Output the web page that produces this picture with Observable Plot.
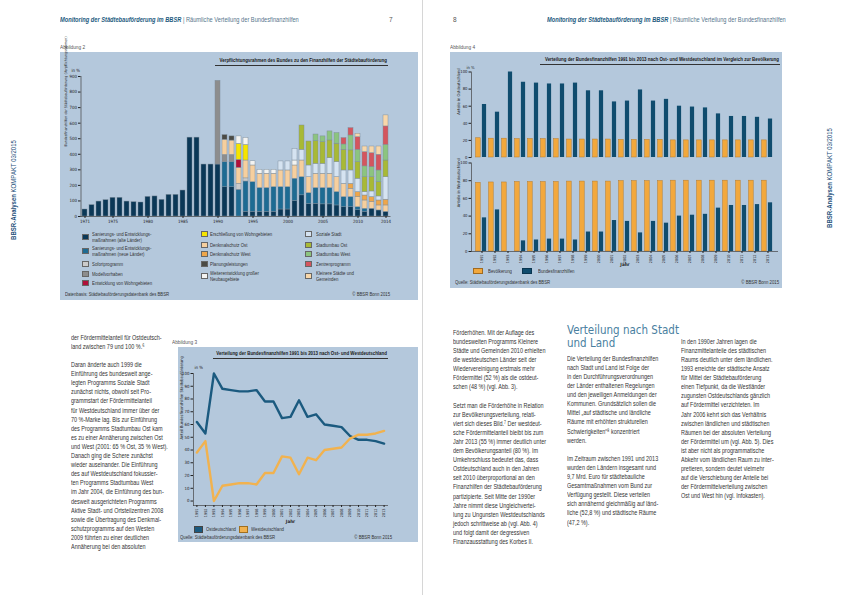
<!DOCTYPE html>
<html lang="de">
<head>
<meta charset="utf-8">
<title>BBSR-Analysen KOMPAKT 03/2015</title>
<script src="https://cdn.jsdelivr.net/npm/d3@7"></script>
<script src="https://cdn.jsdelivr.net/npm/@observablehq/plot@0.6"></script>
<style>
html,body{margin:0;padding:0;background:#fff;}
#page{position:relative;width:843px;height:595px;overflow:hidden;font-family:"Liberation Sans","DejaVu Sans Condensed",sans-serif;color:#3a3a3a;}
#page div{position:absolute;white-space:nowrap;}
#page svg{overflow:visible;display:block;}
</style>
</head>
<body>
<div id="page"></div>
<script>
// ================= DATA =================
// Abbildung 2 – Verpflichtungsrahmen (in %), 1971–2014
const years2 = [1971,1972,1973,1974,1975,1976,1977,1978,1979,1980,1981,1982,1983,1984,1985,1986,1987,1988,1989,1990,
                1991,1992,1993,1994,1995,1996,1997,1998,1999,2000,2001,2002,2003,2004,2005,2006,2007,2008,2009,2010,2011,2012,2013,2014];
const sanierungAlt   = [45,73,96,105,120,120,96,92,90,126,129,107,139,139,167,507,507,334,334,334, 188,188,0,30,30,30,30,30,45,45,100,136,80,82,78,78,71,60,60,40,30,50,39,30];
const sanierungNeu   = [0,0,0,0,0,0,0,0,0,0,0,0,0,0,0,0,0,0,0,0, 161,161,172,195,191,153,153,159,144,144,143,117,70,101,105,105,86,65,65,20,20,0,0,0];
const sofortprogramm = [0,0,0,0,0,0,0,0,0,0,0,0,0,0,0,0,0,0,0,0, 0,0,38,20,0,0,0,0,0,0,0,0,0,0,0,0,0,0,0,0,0,0,0,0];
const modellvorhaben = [0,0,0,0,0,0,0,0,0,0,0,0,0,0,0,0,0,0,0,538, 47,47,0,0,0,0,0,0,0,0,0,0,0,0,0,0,0,0,0,0,0,0,0,0];
const entwicklungWG  = [0,0,0,0,0,0,0,0,0,0,0,0,0,0,0,0,0,0,0,0, 0,0,51,0,0,0,0,0,0,0,0,0,0,0,0,0,0,0,0,0,0,0,0,0];
const erschliessungWG= [0,0,0,0,0,0,0,0,0,0,0,0,0,0,0,0,0,0,0,0, 0,0,103,100,0,0,0,0,0,0,0,0,0,0,0,0,0,0,0,0,0,0,0,0];
const denkmalOst     = [0,0,0,0,0,0,0,0,0,0,0,0,0,0,0,0,0,0,0,0, 97,92,103,115,107,92,92,86,107,107,85,107,103,92,92,92,96,85,53,65,53,43,32,41];
const denkmalWest    = [0,0,0,0,0,0,0,0,0,0,0,0,0,0,0,0,0,0,0,0, 0,0,0,0,0,0,0,0,0,0,0,0,0,0,0,0,0,0,32,32,32,32,32,37];
const planung        = [0,0,0,0,0,0,0,0,0,0,0,0,0,0,0,0,0,0,0,0, 30,27,0,0,0,0,0,0,0,0,0,0,0,0,0,0,0,0,0,0,0,0,0,0];
const neubaugebiete  = [0,0,0,0,0,0,0,0,0,0,0,0,0,0,0,0,0,0,0,0, 0,0,48,45,27,25,25,25,0,0,32,0,0,0,0,0,0,0,0,0,0,0,0,0];
const sozialeStadt   = [0,0,0,0,0,0,0,0,0,0,0,0,0,0,0,0,0,0,0,0, 0,0,0,0,0,0,0,0,58,58,75,69,75,64,64,100,97,86,86,86,22,36,26,145];
const stadtumbauOst  = [0,0,0,0,0,0,0,0,0,0,0,0,0,0,0,0,0,0,0,0, 0,0,0,0,0,0,0,0,0,0,0,156,154,146,139,114,118,133,129,107,96,92,92,107];
const stadtumbauWest = [0,0,0,0,0,0,0,0,0,0,0,0,0,0,0,0,0,0,0,0, 0,0,0,0,0,0,0,0,0,0,0,0,0,42,37,58,68,34,96,79,69,65,75,101];
const zentren        = [0,0,0,0,0,0,0,0,0,0,0,0,0,0,0,0,0,0,0,0, 0,0,0,0,0,0,0,0,0,0,0,0,0,0,0,0,0,41,47,81,92,89,101,118];
const kleinereStaedte= [0,0,0,0,0,0,0,0,0,0,0,0,0,0,0,0,0,0,0,0, 0,0,0,0,0,0,0,0,0,0,0,0,0,0,0,0,0,0,0,22,36,43,53,71];

const seriesNames2 = [
  "Sanierungs- und Entwicklungsmaßnahmen (alte Länder)",
  "Sanierungs- und Entwicklungsmaßnahmen (neue Länder)",
  "Sofortprogramm",
  "Modellvorhaben",
  "Denkmalschutz Ost",
  "Denkmalschutz West",
  "Entwicklung von Wohngebieten",
  "Erschließung von Wohngebieten",
  "Planungsleistungen",
  "Weiterentwicklung großer Neubaugebiete",
  "Soziale Stadt",
  "Stadtumbau Ost",
  "Stadtumbau West",
  "Zentrenprogramm",
  "Kleinere Städte und Gemeinden"
];
const seriesValues2 = [sanierungAlt, sanierungNeu, sofortprogramm, modellvorhaben, denkmalOst, denkmalWest,
  entwicklungWG, erschliessungWG, planung, neubaugebiete, sozialeStadt, stadtumbauOst, stadtumbauWest, zentren, kleinereStaedte];
const xTicks2 = [1971,1975,1980,1985,1990,1995,2000,2005,2010,2014];
const yTicks2 = [0,100,200,300,400,500,600,700,800,900];

// Abbildung 3 / 4 – Anteile Ost/West 1991–2013 (in %)
const years34 = [1991,1992,1993,1994,1995,1996,1997,1998,1999,2000,2001,2002,2003,2004,2005,2006,2007,2008,2009,2010,2011,2012,2013];
const finanzhilfenOst  = [62,53,100,88,87,86,86,87,78,78,65,66,79,66,68,60,59,58,51,48,48,47,45];
const finanzhilfenWest = [38,47,0,12,13,14,14,13,22,22,35,34,21,34,32,40,41,42,49,52,52,53,55];
const bevoelkerungOst  = [22.5,22,22,21.5,21.5,21.5,21.5,21,21,21,21,20.5,20.5,20.5,20.5,20,20,20,20,20,20,20,20];
const bevoelkerungWest = [77.5,78,78,78.5,78.5,78.5,78.5,79,79,79,79,79.5,79.5,79.5,79.5,80,80,80,80,80,80,80,80];
const yTicks3 = [0,10,20,30,40,50,60,70,80,90,100];
const yTicks4 = [0,20,40,60,80,100];

// ================= STYLE =================
const FONT = '"DejaVu Sans Condensed","Liberation Sans",sans-serif';
const BG = "#b4c8dc";
const colors2 = ["#0b3857","#1e6b93","#cbcbcb","#8d8d8d","#f6cf9e","#eea64a","#b0103a","#f5e400","#4b4b45","#f3f3f1","#d5e3f1","#a8b935","#8cc47f","#d4555e","#f8d7aa"];
const NAVY = "#0f4c6e", ORANGE = "#f2a83c";

const page = document.getElementById("page");
function div(style, text) {
  const e = document.createElement("div");
  Object.assign(e.style, style);
  if (text != null) e.textContent = text;
  page.appendChild(e);
  return e;
}
// y = vertical centre of the text line; sx = horizontal condensing
function txt(s, x, y, o = {}) {
  const fs = o.size || 7, sx = o.sx || 1, lh = o.lh || fs * 1.2;
  let tr, org;
  if (o.anchor === "end") { tr = `translateX(-100%) scaleX(${sx})`; org = "100% 50%"; }
  else if (o.anchor === "middle") { tr = `translateX(-50%) scaleX(${sx})`; org = "50% 50%"; }
  else { tr = `scaleX(${sx})`; org = "0 50%"; }
  const e = div({left: x + "px", top: (y - lh / 2) + "px", fontSize: fs + "px", lineHeight: lh + "px",
    color: o.color || "#3a3a3a", fontWeight: o.weight || "normal", fontStyle: o.italic ? "italic" : "normal",
    fontFamily: o.family || "inherit", transform: tr, transformOrigin: org}, s);
  return e;
}
function lines(arr, x, y0, lh, o) { arr.forEach((s, i) => { if (s) txt(s, x, y0 + i * lh, o); }); }
function box(x0, y0, x1, y1, c) { div({left: x0 + "px", top: y0 + "px", width: (x1 - x0) + "px", height: (y1 - y0) + "px", background: c}); }
function swatch(x, yc, w, h, c, b) { div({left: x + "px", top: (yc - h / 2) + "px", width: w + "px", height: h + "px", background: c, boxSizing: "border-box", border: "0.6px solid " + (b || "#555")}); }
function title(s, xEnd, y, xStart) {
  txt(s, xEnd, y, {size: 6, weight: "bold", color: "#1a1a1a", anchor: "end", sx: 0.74});
  div({left: xStart + "px", top: (y + 3.8) + "px", width: (xEnd - xStart + 1) + "px", height: "0.8px", background: "#333"});
}
function place(svg, x, y, w) { const d = div({left: x + "px", top: y + "px", width: w + "px"}); d.appendChild(svg); }

const LEG = {size: 5.4, color: "#333", sx: 0.8};
const SRC = {size: 5.2, color: "#333", sx: 0.82};
const LBL = {size: 5.6, color: "#555", sx: 0.85};

// ================= PAGE FURNITURE =================
div({left: "421.5px", top: "0px", width: "0.6px", height: "595px", background: "#d6d6d6"});
function header(x, y) {
  const e = div({left: x + "px", top: (y - 4) + "px", fontSize: "6.6px", lineHeight: "8px", color: "#55758c",
    transform: "scaleX(0.86)", transformOrigin: "0 50%"});
  e.innerHTML = '<span style="font-weight:bold;font-style:italic;color:#1d5b80">Monitoring der Städtebauförderung im BBSR</span> | Räumliche Verteilung der Bundesfinanzhilfen';
}
header(60, 20); header(547, 20);
txt("7", 389, 20, {size: 6.5, color: "#555"});
txt("8", 453, 20, {size: 6.5, color: "#555"});
function side(x, y) {
  const e = div({left: x + "px", top: y + "px", fontSize: "7px", lineHeight: "8px", color: "#1d4f7a",
    transform: "translate(-50%,-50%) rotate(-90deg) scaleX(0.86)"});
  e.innerHTML = '<b>BBSR-Analysen</b> KOMPAKT 03/2015';
}
side(14, 190); side(830, 178);

// ================= ABBILDUNG 2 =================
txt("Abbildung 2", 60, 47, LBL);
box(60, 52, 418, 300, BG);
title("Verpflichtungsrahmen des Bundes zu den Finanzhilfen der Städtebauförderung", 387, 61, 215);

const data2 = [];
seriesNames2.forEach((s, k) => years2.forEach((yr, i) => {
  const v = seriesValues2[k][i];
  if (v > 0) data2.push({year: yr, series: s, value: v});
}));

const chart2 = Plot.plot({
  width: 360, height: 185,
  marginLeft: 20.5, marginRight: 29.5, marginTop: 24, marginBottom: 21,
  style: {background: "transparent", fontFamily: FONT, color: "#222", overflow: "visible"},
  x: {type: "band", domain: years2, paddingInner: 0.25, paddingOuter: 0.125, axis: null},
  y: {domain: [0, 900], axis: null},
  color: {domain: seriesNames2, range: colors2},
  marks: [
    Plot.barY(data2, {x: "year", y: "value", fill: "series", order: seriesNames2, stroke: "#7d8c99", strokeWidth: 0.45}),
    Plot.ruleY([0], {stroke: "#444", strokeWidth: 0.7}),
    Plot.frame({anchor: "left", stroke: "#444", strokeWidth: 0.7}),
    Plot.axisY({ticks: yTicks2, tickSize: 2.5, tickPadding: 1.5, fontSize: 4.4, label: null}),
    Plot.axisX({ticks: xTicks2, tickFormat: d => String(d), tickSize: 2, tickPadding: 1.5, fontSize: 4.4, label: null}),
    Plot.text(["in %"], {frameAnchor: "top-left", textAnchor: "end", dx: -1, dy: -8, fontSize: 4.4}),
    Plot.text(["Bundesfinanzhilfen der Städtebauförderung (Verpflichtungsrahmen)"], {frameAnchor: "left", rotate: -90, dx: -15, fontSize: 3.6})
  ]
});
place(chart2, 60, 52, 360);

const legendCols2 = [
  {sx: 82, tx: 92, rows: [[0, 234, ["Sanierungs- und Entwicklungs-", "maßnahmen (alte Länder)"]],
                           [1, 248, ["Sanierungs- und Entwicklungs-", "maßnahmen (neue Länder)"]],
                           [2, 264, ["Sofortprogramm"]], [3, 273.5, ["Modellvorhaben"]],
                           [6, 283, ["Entwicklung von Wohngebieten"]]]},
  {sx: 201, tx: 210, rows: [[7, 234, ["Erschließung von Wohngebieten"]], [4, 244.5, ["Denkmalschutz Ost"]],
                             [5, 254, ["Denkmalschutz West"]], [8, 263.5, ["Planungsleistungen"]],
                             [9, 273, ["Weiterentwicklung großer", "Neubaugebiete"]]]},
  {sx: 305, tx: 316, rows: [[10, 234, ["Soziale Stadt"]], [11, 244.5, ["Stadtumbau Ost"]], [12, 254, ["Stadtumbau West"]],
                             [13, 263.5, ["Zentrenprogramm"]], [14, 273, ["Kleinere Städte und", "Gemeinden"]]]}
];
legendCols2.forEach(col => col.rows.forEach(([k, y, ls]) => {
  swatch(col.sx, y + (ls.length - 1) * 3, 7, 6, colors2[k], "#666");
  ls.forEach((s, j) => txt(s, col.tx, y + j * 6.2, {...LEG, lh: 6}));
}));
txt("Datenbasis: Städtebauförderungsdatenbank des BBSR", 65, 294, SRC);
txt("© BBSR Bonn 2015", 390, 294, {...SRC, anchor: "end"});

// ================= ABBILDUNG 3 =================
txt("Abbildung 3", 172, 342, LBL);
box(178, 347, 418, 542, BG);
title("Verteilung der Bundesfinanzhilfen 1991 bis 2013 nach Ost- und Westdeutschland", 387, 354, 213);

const data3 = [];
years34.forEach((yr, i) => {
  data3.push({year: yr, region: "Ostdeutschland", value: finanzhilfenOst[i]});
  data3.push({year: yr, region: "Westdeutschland", value: finanzhilfenWest[i]});
});
const chart3 = Plot.plot({
  width: 240, height: 180,
  marginLeft: 15, marginRight: 31, marginTop: 26, marginBottom: 22,
  style: {background: "transparent", fontFamily: FONT, color: "#222", overflow: "visible"},
  x: {domain: [1990.6, 2013.4], axis: null},
  y: {domain: [-3.5, 100], axis: null},
  color: {domain: ["Ostdeutschland", "Westdeutschland"], range: ["#1b5a7f", "#f1b24f"]},
  marks: [
    Plot.frame({anchor: "left", stroke: "#444", strokeWidth: 0.7}),
    Plot.frame({anchor: "bottom", stroke: "#444", strokeWidth: 0.7}),
    Plot.line(data3, {x: "year", y: "value", stroke: "region", z: "region", strokeWidth: 2.4, strokeLinejoin: "round"}),
    Plot.axisY({ticks: yTicks3, tickSize: 2.5, tickPadding: 1.5, fontSize: 4.3, label: null}),
    Plot.axisX({ticks: years34, tickFormat: d => String(d), tickRotate: -90, tickSize: 2, tickPadding: 1, fontSize: 3.8, label: null}),
    Plot.text(["in %"], {frameAnchor: "top-left", dx: 1, dy: -8, fontSize: 4.3}),
    Plot.text(["Jahr"], {frameAnchor: "bottom", dy: 17, fontSize: 4.6, fontWeight: "bold"}),
    Plot.text(["Anteil Bundesfinanzhilfen Städtebauförderung"], {frameAnchor: "left", rotate: -90, dx: -12, fontSize: 4})
  ]
});
place(chart3, 178, 347, 240);
swatch(194, 529, 9, 7, "#1b5a7f", "#444"); txt("Ostdeutschland", 206, 529, LEG);
swatch(239, 529, 9, 7, "#f1b24f", "#a07020"); txt("Westdeutschland", 251, 529, LEG);
txt("Quelle: Städtebauförderungsdatenbank des BBSR", 180, 537, SRC);
txt("© BBSR Bonn 2015", 392, 537, {...SRC, anchor: "end"});

// ================= ABBILDUNG 4 =================
txt("Abbildung 4", 450, 47, LBL);
box(450, 52, 782, 288, BG);
title("Verteilung der Bundesfinanzhilfen 1991 bis 2013 nach Ost- und Westdeutschland im Vergleich zur Bevölkerung", 779, 60, 540);

const data4 = years34.map((yr, i) => ({year: yr, bevOst: bevoelkerungOst[i], fhOst: finanzhilfenOst[i], bevWest: bevoelkerungWest[i], fhWest: finanzhilfenWest[i]}));
function panel4(bevKey, fhKey, opts) {
  return Plot.plot({
    width: 332, height: opts.height,
    marginLeft: 21, marginRight: 4, marginTop: opts.mt, marginBottom: opts.mb,
    style: {background: "transparent", fontFamily: FONT, color: "#222", overflow: "visible"},
    x: {type: "band", domain: years34, paddingInner: 0, paddingOuter: 0, axis: null},
    y: {domain: [0, 100], axis: null},
    marks: [
      Plot.barY(data4, {x: "year", y: bevKey, fill: ORANGE, stroke: "#b97b25", strokeWidth: 0.5, insetLeft: 0.6, insetRight: 7.8}),
      Plot.barY(data4, {x: "year", y: fhKey, fill: NAVY, insetLeft: 6.9, insetRight: 1.9}),
      Plot.frame({anchor: "left", stroke: "#444", strokeWidth: 0.7}),
      Plot.axisY({ticks: yTicks4, tickSize: 2.5, tickPadding: 1.5, fontSize: 4.2, label: null}),
      Plot.text([opts.label], {frameAnchor: "left", rotate: -90, dx: -13, fontSize: 4}),
      ...opts.extra
    ]
  });
}
const chart4a = panel4("bevOst", "fhOst", {height: 100, mt: 13.5, mb: 1, label: "Anteile in Ostdeutschland",
  extra: [Plot.text(["in %"], {frameAnchor: "top-left", textAnchor: "middle", dx: -1, dy: -6, fontSize: 4.2})]});
const chart4b = panel4("bevWest", "fhWest", {height: 112, mt: 2.5, mb: 21, label: "Anteile in Westdeutschland",
  extra: [Plot.ruleY([0], {stroke: "#444", strokeWidth: 0.7}),
          Plot.axisX({tickFormat: d => String(d), tickRotate: -90, tickSize: 2, tickPadding: 1, fontSize: 3.8, label: null}),
          Plot.text(["Jahr"], {frameAnchor: "bottom", dy: 14, fontSize: 4.6, fontWeight: "bold"})]});
place(chart4a, 450, 58, 332);
place(chart4b, 450, 160, 332);
swatch(473, 271, 10, 6, ORANGE, "#a06a20"); txt("Bevölkerung", 488, 271, LEG);
swatch(522, 271, 10, 6, NAVY, "#0a3550"); txt("Bundesfinanzhilfen", 538, 271, LEG);
txt("Quelle: Städtebauförderungsdatenbank des BBSR", 455, 282, SRC);
txt("© BBSR Bonn 2015", 779, 282, {...SRC, anchor: "end"});

// ================= BODY TEXT =================
const LH = 9.1;
const BODY = {size: 7.4, color: "#333", sx: 0.74, lh: 8.6};
lines([
  "der Fördermittelanteil für Ostdeutsch-",
  "land zwischen 79 und 100 %.⁶",
  "",
  "Daran änderte auch 1999 die",
  "Einführung des bundesweit ange-",
  "legten Programms Soziale Stadt",
  "zunächst nichts, obwohl seit Pro-",
  "grammstart der Fördermittelanteil",
  "für Westdeutschland immer über der",
  "70 %-Marke lag. Bis zur Einführung",
  "des Programms Stadtumbau Ost kam",
  "es zu einer Annäherung zwischen Ost",
  "und West (2001: 65 % Ost, 35 % West).",
  "Danach ging die Schere zunächst",
  "wieder auseinander. Die Einführung",
  "des auf Westdeutschland fokussier-",
  "ten Programms Stadtumbau West",
  "im Jahr 2004, die Einführung des bun-",
  "desweit ausgerichteten Programms",
  "Aktive Stadt- und Ortsteilzentren 2008",
  "sowie die Übertragung des Denkmal-",
  "schutzprogramms auf den Westen",
  "2009 führten zu einer deutlichen",
  "Annäherung bei den absoluten"
], 71, 338, LH, BODY);

lines([
  "Förderhöhen. Mit der Auflage des",
  "bundesweiten Programms Kleinere",
  "Städte und Gemeinden 2010 erhielten",
  "die westdeutschen Länder seit der",
  "Wiedervereinigung erstmals mehr",
  "Fördermittel (52 %) als die ostdeut-",
  "schen (48 %) (vgl. Abb. 3).",
  "",
  "Setzt man die Förderhöhe in Relation",
  "zur Bevölkerungsverteilung, relati-",
  "viert sich dieses Bild.⁷ Der westdeut-",
  "sche Fördermittelanteil bleibt bis zum",
  "Jahr 2013 (55 %) immer deutlich unter",
  "dem Bevölkerungsanteil (80 %). Im",
  "Umkehrschluss bedeutet das, dass",
  "Ostdeutschland auch in den Jahren",
  "seit 2010 überproportional an den",
  "Finanzhilfen der Städtebauförderung",
  "partizipierte. Seit Mitte der 1990er",
  "Jahre nimmt diese Ungleichvertei-",
  "lung zu Ungunsten Westdeutschlands",
  "jedoch schrittweise ab (vgl. Abb. 4)",
  "und folgt damit der degressiven",
  "Finanzausstattung des Korbes II."
], 453, 333, LH, BODY);

lines(["Verteilung nach Stadt", "und Land"], 567, 330, 12.8, {size: 11.5, lh: 12, color: "#4a7f9f", family: '"DejaVu Sans Condensed",sans-serif'});
lines([
  "Die Verteilung der Bundesfinanzhilfen",
  "nach Stadt und Land ist Folge der",
  "in den Durchführungsverordnungen",
  "der Länder enthaltenen Regelungen",
  "und den jeweiligen Anmeldungen der",
  "Kommunen. Grundsätzlich sollen die",
  "Mittel „auf städtische und ländliche",
  "Räume mit erhöhten strukturellen",
  "Schwierigkeiten“⁸ konzentriert",
  "werden.",
  "",
  "Im Zeitraum zwischen 1991 und 2013",
  "wurden den Ländern insgesamt rund",
  "9,7 Mrd. Euro für städtebauliche",
  "Gesamtmaßnahmen vom Bund zur",
  "Verfügung gestellt. Diese verteilen",
  "sich annähernd gleichmäßig auf länd-",
  "liche (52,8 %) und städtische Räume",
  "(47,2 %)."
], 567, 359, LH, BODY);

lines([
  "In den 1990er Jahren lagen die",
  "Finanzmittelanteile des städtischen",
  "Raums deutlich unter dem ländlichen.",
  "1993 erreichte der städtische Ansatz",
  "für Mittel der Städtebauförderung",
  "einen Tiefpunkt, da die Westländer",
  "zugunsten Ostdeutschlands gänzlich",
  "auf Fördermittel verzichteten. Im",
  "Jahr 2006 kehrt sich das Verhältnis",
  "zwischen ländlichen und städtischen",
  "Räumen bei der absoluten Verteilung",
  "der Fördermittel um (vgl. Abb. 5). Dies",
  "ist aber nicht als programmatische",
  "Abkehr vom ländlichen Raum zu inter-",
  "pretieren, sondern deutet vielmehr",
  "auf die Verschiebung der Anteile bei",
  "der Fördermittelverteilung zwischen",
  "Ost und West hin (vgl. Infokasten)."
], 681, 342, LH, BODY);
</script>
</body>
</html>
